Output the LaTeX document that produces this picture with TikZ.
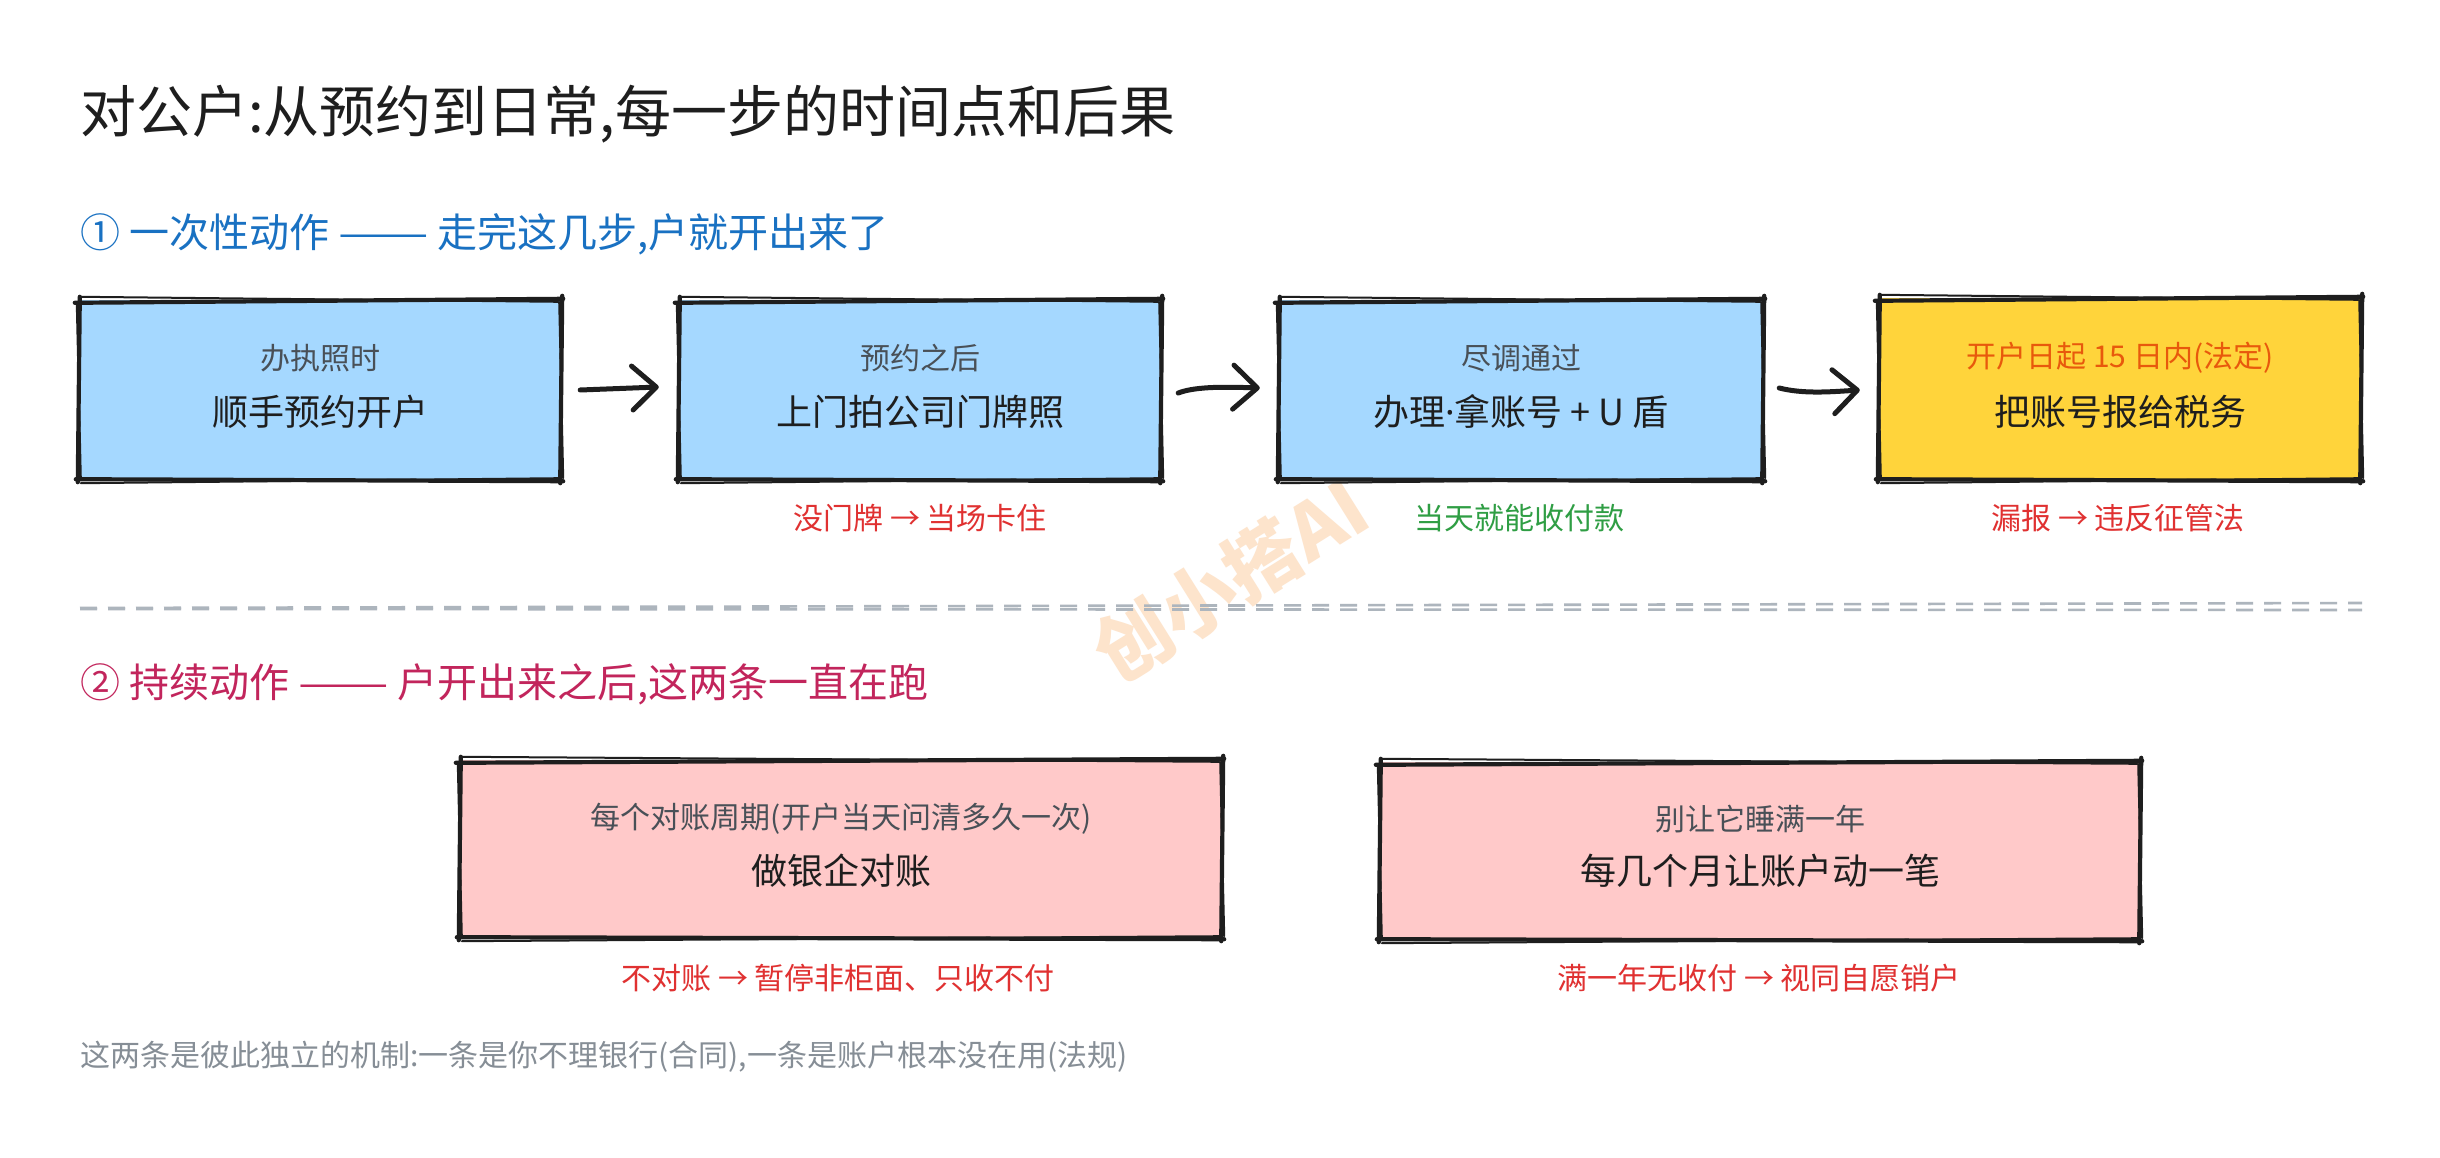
\documentclass[tikz,border=0pt]{standalone}
\usepackage{fontspec}
\usepackage{graphicx}
\setmainfont{Noto Sans CJK SC}
\newfontfamily\latinfont{Noto Sans}
\usetikzlibrary{calc,arrows.meta}
\definecolor{ink}{HTML}{1E1E1E}
\definecolor{boxblue}{HTML}{A5D8FF}
\definecolor{boxyellow}{HTML}{FFD43B}
\definecolor{boxpink}{HTML}{FFC9C9}
\definecolor{headblue}{HTML}{1971C2}
\definecolor{headred}{HTML}{C2255C}
\definecolor{subgrey}{HTML}{495057}
\definecolor{subor}{HTML}{E8590C}
\definecolor{warnred}{HTML}{E03131}
\definecolor{okgreen}{HTML}{2F9E44}
\definecolor{footgrey}{HTML}{868E96}
\definecolor{sepgrey}{HTML}{ADB5BD}
\definecolor{wmark}{HTML}{FDE4CC}
\newcommand\longdash{\scalebox{1.35}[1]{——}}
\tikzset{
  boxnode/.style={rectangle, inner sep=0pt, draw=none},
  skA/.style={draw=ink, line width=4.2pt, line cap=round},
  skB/.style={draw=ink, line width=2pt, line cap=round},
  subtxt/.style={inner sep=0pt, text=subgrey, font=\fontsize{30}{36}\selectfont},
  maintxt/.style={inner sep=0pt, text=ink, font=\fontsize{36}{43}\selectfont},
  lbl/.style={inner sep=0pt, font=\fontsize{30}{36}\selectfont},
  arr/.style={draw=ink, line width=5pt, line cap=round, -{Straight Barb[length=24pt,width=44pt,line cap=round,line join=round]}},
  sepline/.style={draw=sepgrey, line width=2.6pt, dash pattern=on 17pt off 11pt},
}
\newcommand\sketchbox[1]{%
 \draw[skA] ($(#1.north west)+(-4,3)$) -- ($(#1.north east)+(2,-1)$);
 \draw[skB] ($(#1.north west)+(2,-3)$) -- ($(#1.north east)+(-3,2)$);
 \draw[skA] ($(#1.north east)+(1,-4)$) -- ($(#1.south east)+(-1,3)$);
 \draw[skB] ($(#1.north east)+(-2,2)$) -- ($(#1.south east)+(2,-2)$);
 \draw[skA] ($(#1.south east)+(2,1)$) -- ($(#1.south west)+(-3,-1)$);
 \draw[skB] ($(#1.south east)+(-3,-2)$) -- ($(#1.south west)+(2,3)$);
 \draw[skA] ($(#1.south west)+(-1,2)$) -- ($(#1.north west)+(1,-3)$);
 \draw[skB] ($(#1.south west)+(2,-2)$) -- ($(#1.north west)+(-2,4)$);
}
\begin{document}
\begin{tikzpicture}[x=1pt,y=-1pt]
\fill[white] (0,0) rectangle (2440,1158);
\useasboundingbox (0,0) rectangle (2440,1158);

% watermark
\node (wm) [inner sep=0pt, rotate=32, text=wmark, font=\fontsize{76}{80}\selectfont\bfseries] at (1230,580) {创小搭AI};

% title and headings
\node (title) [anchor=west, inner sep=0pt, text=ink, font=\fontsize{56}{68}\selectfont] at (80,114) {对公户:从预约到日常,每一步的时间点和后果};
\node (h1) [anchor=west, inner sep=0pt, text=headblue, font=\fontsize{40}{48}\selectfont] at (80,234) {① 一次性动作 \longdash{} 走完这几步,户就开出来了};

% row 1 boxes
\node (b1) [boxnode, fill=boxblue, minimum width=482pt, minimum height=180pt] at (320,390) {};
\node (b2) [boxnode, fill=boxblue, minimum width=482pt, minimum height=180pt] at (920,390) {};
\node (b3) [boxnode, fill=boxblue, minimum width=484pt, minimum height=180pt] at (1521,390) {};
\node (b4) [boxnode, fill=boxyellow, minimum width=482pt, minimum height=182pt] at (2120,389) {};
\sketchbox{b1}\sketchbox{b2}\sketchbox{b3}\sketchbox{b4}

\node (b1s) [subtxt] at (320,358) {办执照时};
\node (b1m) [maintxt] at (320,412) {顺手预约开户};
\node (b2s) [subtxt] at (920,358) {预约之后};
\node (b2m) [maintxt] at (920,412) {上门拍公司门牌照};
\node (b3s) [subtxt] at (1521,358) {尽调通过};
\node (b3m) [maintxt] at (1521,412) {办理{\latinfont ·}拿账号 + U 盾};
\node (b4s) [subtxt, text=subor] at (2120,358) {开户日起 15 日内(法定)};
\node (b4m) [maintxt] at (2120,412) {把账号报给税务};

\node (l2) [lbl, text=warnred] at (920,518) {没门牌 → 当场卡住};
\node (l3) [lbl, text=okgreen] at (1519,518) {当天就能收付款};
\node (l4) [lbl, text=warnred] at (2118,518) {漏报 → 违反征管法};

% arrows
\draw[arr] ($(b1.east)+(19,0)$) -- ($(b2.west)+(-20,-3)$);
\draw[arr] ($(b2.east)+(17,3)$) .. controls ($(b2.east)+(35,-4)$) and ($(b3.west)+(-50,-3)$) .. ($(b3.west)+(-19,-2)$);
\draw[arr] ($(b3.east)+(16,-2)$) .. controls ($(b3.east)+(40,4)$) and ($(b4.west)+(-50,3)$) .. ($(b4.west)+(-19,1)$);

% separator
\coordinate (sepL) at (80,608);
\coordinate (sepR) at (2362,603);
\draw[sepline] (sepL) -- (sepR);
\draw[sepline] ($(sepL)+(0,1)$) -- ($(sepR)+(0,7)$);

\node (h2) [anchor=west, inner sep=0pt, text=headred, font=\fontsize{40}{48}\selectfont] at (80,684) {② 持续动作 \longdash{} 户开出来之后,这两条一直在跑};

% row 2 boxes
\node (b5) [boxnode, fill=boxpink, minimum width=762pt, minimum height=178pt] at (841,849) {};
\node (b6) [boxnode, fill=boxpink, minimum width=760pt, minimum height=178pt] at (1760,851) {};
\sketchbox{b5}\sketchbox{b6}

\node (b5s) [subtxt] at (841,819) {每个对账周期(开户当天问清多久一次)};
\node (b5m) [maintxt] at (841,871) {做银企对账};
\node (b6s) [subtxt] at (1760,819) {别让它睡满一年};
\node (b6m) [maintxt] at (1760,871) {每几个月让账户动一笔};

\node (l5) [lbl, text=warnred] at (838,978) {不对账 → 暂停非柜面、只收不付};
\node (l6) [lbl, text=warnred] at (1759,978) {满一年无收付 → 视同自愿销户};

\node (foot) [anchor=west, inner sep=0pt, text=footgrey, font=\fontsize{30}{36}\selectfont] at (80,1057) {这两条是彼此独立的机制:一条是你不理银行(合同),一条是账户根本没在用(法规)};
\end{tikzpicture}
\end{document}
